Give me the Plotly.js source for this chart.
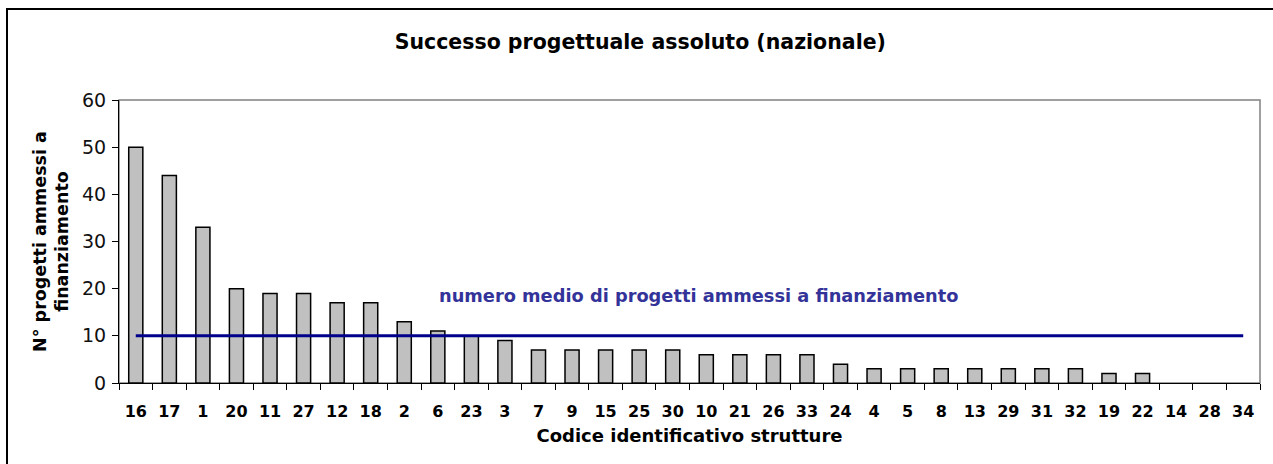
<!DOCTYPE html>
<html>
<head>
<meta charset="utf-8">
<script src="https://cdn.plot.ly/plotly-3.0.1.min.js"></script>
<style>
html,body{margin:0;padding:0;background:#fff;overflow:hidden;}
#frame{position:absolute;left:6px;top:8px;width:1400px;height:600px;border:2px solid #000;box-sizing:border-box;}
#chart{position:absolute;left:0;top:0;width:1273px;height:464px;}
</style>
</head>
<body>
<div id="frame"></div>
<div id="chart"></div>
<script>
const categories = ["16","17","1","20","11","27","12","18","2","6","23","3","7","9","15","25","30","10","21","26","33","24","4","5","8","13","29","31","32","19","22","14","28","34"];
const projects = [50,44,33,20,19,19,17,17,13,11,10,9,7,7,7,7,7,6,6,6,6,4,3,3,3,3,3,3,3,2,2,0,0,0];
const meanValue = 10;
const yTicks = [0,10,20,30,40,50,60];
const titleText = "Successo progettuale assoluto (nazionale)";
const xTitle = "Codice identificativo strutture";
const yTitle = "N° progetti ammessi a<br>finanziamento";
const meanLabel = "numero medio di progetti ammessi a finanziamento";

const font = "DejaVu Sans, Verdana, sans-serif";

const traces = [
  {
    type: "bar",
    x: categories,
    y: projects,
    marker: {color: "#c0c0c0", line: {color: "#000", width: projects.map(v => v > 0 ? 1.5 : 0)}},
    hoverinfo: "x+y"
  },
  {
    type: "scatter",
    mode: "lines",
    x: categories,
    y: categories.map(() => meanValue),
    line: {color: "#00008b", width: 3},
    hoverinfo: "y"
  }
];

const layout = {
  width: 1273,
  height: 464,
  margin: {l: 119, r: 13, t: 100, b: 81},
  paper_bgcolor: "rgba(0,0,0,0)",
  plot_bgcolor: "rgba(0,0,0,0)",
  showlegend: false,
  bargap: 0.58,
  title: {
    text: "<b>" + titleText + "</b>",
    font: {family: font, size: 20.5, color: "#000"},
    x: 0.503, xanchor: "center", y: 0.91, yanchor: "middle"
  },
  xaxis: {
    type: "category",
    showline: true, linecolor: "#000", linewidth: 1,
    ticks: "outside", tickson: "boundaries", ticklen: 6, tickcolor: "#000", tickwidth: 1,
    ticklabelstandoff: 14,
    tickfont: {family: font, size: 16, color: "#000", weight: "bold"},
    title: {text: "<b>" + xTitle + "</b>", font: {family: font, size: 18, color: "#000"}, standoff: 9},
    showgrid: false, zeroline: false, fixedrange: true
  },
  yaxis: {
    range: [0, 60],
    tickvals: yTicks,
    showline: true, linecolor: "#000", linewidth: 1,
    ticks: "outside", ticklen: 6, tickcolor: "#000", tickwidth: 1,
    ticklabelstandoff: 2,
    tickfont: {family: font, size: 19, color: "#111"},
    title: {text: "<b>" + yTitle + "</b>", font: {family: font, size: 17.5, color: "#000"}, standoff: 8},
    showgrid: false, zeroline: false, fixedrange: true
  },
  shapes: [
    {type: "rect", xref: "paper", yref: "paper", x0: 0, x1: 1, y0: 0, y1: 1,
     line: {color: "#808080", width: 1.5}, layer: "below"}
  ],
  annotations: [
    {
      text: "<b>" + meanLabel + "</b>",
      xref: "paper", yref: "paper",
      x: 0.279, y: 0.31, xanchor: "left", yanchor: "middle",
      showarrow: false,
      font: {family: font, size: 17.8, color: "#333399"}
    }
  ]
};

Plotly.newPlot("chart", traces, layout, {displayModeBar: false});
</script>
</body>
</html>
